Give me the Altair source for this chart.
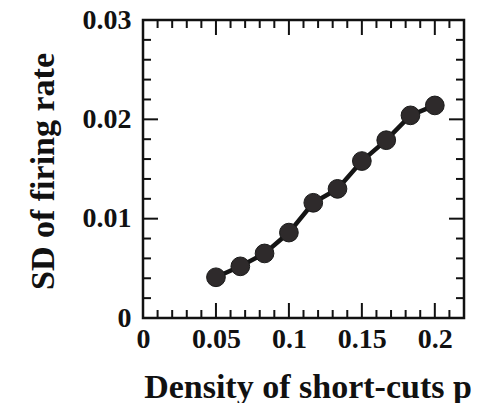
import altair as alt
import pandas as pd

p_values = [0.05, 0.0667, 0.0833, 0.1, 0.1167, 0.1333, 0.15, 0.1667, 0.1833, 0.2]
sd_values = [0.0041, 0.0052, 0.0065, 0.0086, 0.0116, 0.0130, 0.0158, 0.0179, 0.0204, 0.0214]

x_major = [0, 0.05, 0.1, 0.15, 0.2]
x_minor = [0.01, 0.02, 0.03, 0.04, 0.06, 0.07, 0.08, 0.09, 0.11, 0.12, 0.13, 0.14,
           0.16, 0.17, 0.18, 0.19, 0.21]
y_major = [0, 0.01, 0.02, 0.03]
y_minor = [0.002, 0.004, 0.006, 0.008, 0.012, 0.014, 0.016, 0.018,
           0.022, 0.024, 0.026, 0.028]

W, H = 321, 298
MAJ, MIN = 15, 8
FONT = "Liberation Serif"

xs = alt.Scale(domain=[0, 0.22], nice=False, zero=False)
ys = alt.Scale(domain=[0, 0.03], nice=False, zero=False)

df = pd.DataFrame({"p": p_values, "sd": sd_values})

x_axis = alt.Axis(values=x_major, ticks=False, domain=False, grid=False,
                  labelFont=FONT, labelFontWeight="bold", labelFontSize=28,
                  labelColor="#111", labelPadding=7, labelFlush=False,
                  labelExpr="datum.value == 0 ? '0' : format(datum.value, '.2~f')",
                  title="Density of short-cuts p", titleFont=FONT, titleFontWeight="bold",
                  titleFontSize=34, titleColor="#111", titleX=W / 2 + 4, titleY=79,
                  titleBaseline="alphabetic", titleAlign="center")
y_axis = alt.Axis(values=y_major, ticks=False, domain=False, grid=False,
                  labelFont=FONT, labelFontWeight="bold", labelFontSize=28,
                  labelColor="#111", labelPadding=12, labelFlush=False,
                  labelExpr="datum.value == 0 ? '0' : format(datum.value, '.2~f')",
                  title="SD of firing rate", titleFont=FONT, titleFontWeight="bold",
                  titleFontSize=34, titleColor="#111", titleX=-90, titleY=H / 2 + 2,
                  titleBaseline="alphabetic", titleAlign="center", titleAngle=-90)

line = alt.Chart(df).mark_line(color="#151515", strokeWidth=4.5).encode(
    x=alt.X("p:Q", scale=xs, axis=x_axis),
    y=alt.Y("sd:Q", scale=ys, axis=y_axis),
)
pts = alt.Chart(df).mark_point(filled=True, size=350, color="#2e2a2b", opacity=1,
                               stroke="#1a1a1a", strokeWidth=1).encode(
    x=alt.X("p:Q", scale=xs, axis=x_axis),
    y=alt.Y("sd:Q", scale=ys, axis=y_axis),
)

def xticks(vals, length):
    d = pd.DataFrame({"v": vals})
    bottom = alt.Chart(d).mark_rule(color="#111", strokeWidth=2).encode(
        x=alt.X("v:Q", scale=xs, axis=x_axis),
        y=alt.value(H), y2=alt.value(H - length))
    top = alt.Chart(d).mark_rule(color="#111", strokeWidth=2).encode(
        x=alt.X("v:Q", scale=xs, axis=x_axis),
        y=alt.value(0), y2=alt.value(length))
    return [bottom, top]

def yticks(vals, length):
    d = pd.DataFrame({"v": vals})
    left = alt.Chart(d).mark_rule(color="#111", strokeWidth=2).encode(
        y=alt.Y("v:Q", scale=ys, axis=y_axis),
        x=alt.value(0), x2=alt.value(length))
    right = alt.Chart(d).mark_rule(color="#111", strokeWidth=2).encode(
        y=alt.Y("v:Q", scale=ys, axis=y_axis),
        x=alt.value(W - length), x2=alt.value(W))
    return [left, right]

layers = [line] + xticks(x_major, MAJ) + xticks(x_minor, MIN) + \
         yticks(y_major, MAJ) + yticks(y_minor, MIN) + [pts]

chart = alt.layer(*layers).properties(
    width=W, height=H,
    autosize=alt.AutoSizeParams(type="none"),
    padding={"left": 143, "top": 20, "right": 17, "bottom": 85},
    background="white",
).configure_view(stroke="#111", strokeWidth=2.5)

chart.save("out.html", embed_options={"renderer": "svg", "actions": False})
